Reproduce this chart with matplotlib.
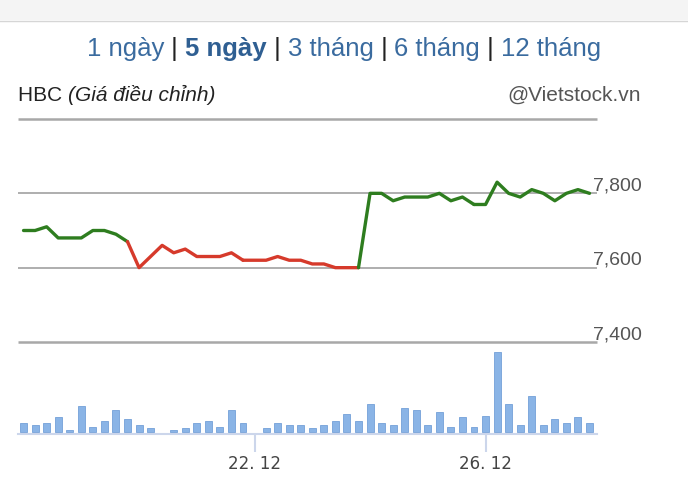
import matplotlib.pyplot as plt
from matplotlib.patches import Rectangle

# dữ liệu giá (10 điểm mỗi phiên)
days = ["20. 12", "21. 12", "22. 12", "23. 12", "26. 12"]
day_colors = ["#2e7d1f", "#d63a2b", "#d63a2b", "#2e7d1f", "#2e7d1f"]
price = [7700, 7700, 7710, 7680, 7680, 7680, 7700, 7700, 7690, 7670,
         7600, 7630, 7660, 7640, 7650, 7630, 7630, 7630, 7640, 7620,
         7620, 7620, 7630, 7620, 7620, 7610, 7610, 7600, 7600, 7600,
         7800, 7800, 7780, 7790, 7790, 7790, 7800, 7780, 7790, 7770,
         7770, 7830, 7800, 7790, 7810, 7800, 7780, 7800, 7810, 7800]
volume = [9, 6.7, 9, 14.3, 2, 25.3, 5, 10.7, 21.7, 12.7,
          6.7, 3.3, 0, 1.7, 3.3, 9, 10.7, 5, 21.7, 9,
          0, 3.3, 9, 6.7, 6.7, 3.3, 6.7, 10.7, 18, 10.7,
          27.3, 9, 6.7, 23.7, 21.7, 6.7, 19.7, 5, 14.3, 5,
          16, 80, 27.3, 6.7, 36.3, 6.7, 12.3, 9, 14.3, 9]
y_ticks = [7400, 7600, 7800, 8000]
x_ticks = {20: "22. 12", 40: "26. 12"}
nav = ["1 ngày", "5 ngày", "3 tháng", "6 tháng", "12 tháng"]

W, H = 688, 500
fig = plt.figure(figsize=(W / 100, H / 100), dpi=100)
fig.patch.set_facecolor("white")


def box(l, t, r, b):
    return [l / W, 1 - b / H, (r - l) / W, (b - t) / H]


# thanh xám trên cùng
fig.patches.append(Rectangle((0, 1 - 20 / H), 1, 20 / H, transform=fig.transFigure,
                             facecolor="#f4f4f4", edgecolor="none"))
fig.lines.append(plt.Line2D([0, 1], [1 - 20.5 / H] * 2, transform=fig.transFigure,
                            color="#d6d6d6", lw=1))

x = list(range(len(price)))

# biểu đồ khối lượng
axv = fig.add_axes(box(18, 342, 597, 434))
axv.patch.set_alpha(0)
axv.bar(x, volume, width=0.6, color="#8ab4e6", edgecolor="#73a0d8",
        lw=[0.6 if v > 0 else 0 for v in volume])
axv.set_xlim(-0.48, 49.65)
axv.set_ylim(-2.3, 90)
for s in ["top", "left", "right"]:
    axv.spines[s].set_visible(False)
axv.spines["bottom"].set_color("#ccd6eb")
axv.spines["bottom"].set_linewidth(1.5)
axv.set_yticks([])
axv.set_xticks(list(x_ticks.keys()))
axv.set_xticklabels(list(x_ticks.values()), fontsize=12, color="#444444",
                    family="DejaVu Sans")
axv.tick_params(axis="x", length=13, width=1.5, color="#ccd6eb", pad=2)

# biểu đồ giá
ax = fig.add_axes(box(18, 119, 597, 342))
ax.patch.set_alpha(0)
for d in range(len(days)):
    s = max(d * 10 - 1, 0)
    e = d * 10 + 10
    ax.plot(x[s:e], price[s:e], color=day_colors[d], lw=2.4,
            solid_joinstyle="round", solid_capstyle="round", zorder=3)
ax.set_xlim(-0.48, 49.65)
ax.set_ylim(7400, 8000)
for v in y_ticks:
    ax.axhline(v, color="#a8a8a8", lw=1.3 if v in (7600, 7800) else 1.8, zorder=1,
               clip_on=False, solid_capstyle="butt")
    if v < 8000:
        ax.annotate(f"{v:,}", xy=(0.993, v), xycoords=("axes fraction", "data"),
                    xytext=(0, 3), textcoords="offset pixels", va="baseline",
                    ha="left", fontsize=14, color="#555555",
                    family="Liberation Sans", annotation_clip=False)
ax.axis("off")

# tiêu đề
fig.canvas.draw()
r = fig.canvas.get_renderer()


def line_of_text(parts, x0, y0, ha="left"):
    # parts: (chuỗi, kwargs)
    objs = []
    xx = x0
    for txt, kw in parts:
        t = fig.text(xx / W, 1 - y0 / H, txt, va="baseline", ha="left", **kw)
        xx += t.get_window_extent(r).width
        objs.append(t)
    if ha == "center":
        shift = (xx - x0) / 2
        for t in objs:
            px, py = t.get_position()
            t.set_position((px - shift / W, py))
    return objs


blue = "#3a6b9f"
nav_parts = []
for i, n in enumerate(nav):
    if i > 0:
        nav_parts.append((" | ", dict(color="#222222", fontsize=18.5, family="Liberation Sans")))
    nav_parts.append((n, dict(color="#2f5f92" if i == 1 else blue, fontsize=18.5,
                              family="Liberation Sans",
                              fontweight="bold" if i == 1 else "normal")))
line_of_text(nav_parts, 344, 56, ha="center")

line_of_text([("HBC ", dict(color="#222222", fontsize=15, family="Liberation Sans")),
              ("(Giá điều chỉnh)", dict(color="#222222", fontsize=15,
                                        family="Liberation Sans", style="italic"))],
             18, 101)
fig.text(641 / W, 1 - 101 / H, "@Vietstock.vn", ha="right", va="baseline",
         fontsize=15, color="#555555", family="Liberation Sans")

plt.savefig("out.png", dpi=100)
